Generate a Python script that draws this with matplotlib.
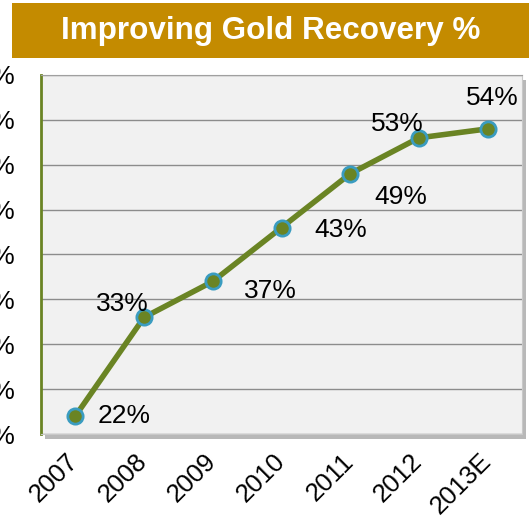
import numpy as np
import matplotlib
matplotlib.use("Agg")
from matplotlib import pyplot as plt
from matplotlib.patches import Rectangle
from matplotlib.transforms import ScaledTranslation

years = ["2007", "2008", "2009", "2010", "2011", "2012", "2013E"]
recovery = [22, 33, 37, 43, 49, 53, 54]
yticks = [20, 25, 30, 35, 40, 45, 50, 55, 60]
# label offsets in pixels relative to each point
lab_dx = [49, -22, 58, 59, 51, -22, 5]
lab_dy = [0, 13, -10, -2, -23, 14, 31]

plt.rcParams['font.family'] = ['Liberation Sans', 'DejaVu Sans']

fig = plt.figure(figsize=(5.29, 5.27), dpi=100)
W, H = 529, 527

# title banner
fig.patches.append(Rectangle((12/W, 1-58/H), 1-12/W, 55/H, transform=fig.transFigure,
                             facecolor="#C48B00", edgecolor="none", zorder=-2))
fig.text((12+529)/2/W, 1-31/H, "Improving Gold Recovery %", color="white",
         fontsize=22.6, fontweight="bold", ha="center", va="center")

ax_l, ax_r, ax_t, ax_b = 41, 522, 75, 434
# drop shadow
fig.patches.append(Rectangle(((ax_l+4)/W, 1-(ax_b+5)/H), (ax_r-ax_l)/W, (ax_b-ax_t)/H,
                             transform=fig.transFigure, facecolor="#B8B8B8",
                             edgecolor="none", zorder=-2))
ax = fig.add_axes([ax_l/W, 1-ax_b/H, (ax_r-ax_l)/W, (ax_b-ax_t)/H])
ax.set_facecolor("#F1F1F1")

x = np.arange(len(years))
ax.plot(x, recovery, color="#6A8424", lw=4, marker="o", markersize=11,
        markerfacecolor="#6A8424", markeredgecolor="#3A9CC0", markeredgewidth=2,
        zorder=3)

for i in range(len(years)):
    ax.annotate(f"{recovery[i]}%", (x[i], recovery[i]), xytext=(lab_dx[i], lab_dy[i]),
                textcoords="offset pixels", ha="center", va="center", fontsize=19)

ax.set_xlim(-0.5, len(years)-0.5)
ax.set_ylim(20, 60)
ax.set_yticks(yticks)
ax.set_yticklabels([f"{v}%" for v in yticks], fontsize=19)
ax.set_xticks(x)
ax.set_xticklabels(years, rotation=45, ha="right", rotation_mode="anchor", fontsize=18.5)
ax.tick_params(axis="y", length=0, pad=18.5)
ax.tick_params(axis="x", length=0, pad=11)
shift = ScaledTranslation(-9/100, 0, fig.dpi_scale_trans)
for lab in ax.get_xticklabels():
    lab.set_transform(lab.get_transform() + shift)
ax.grid(axis="y", color="#8C8C8C", lw=1)
ax.set_axisbelow(True)

ax.spines["left"].set_color("#6A8424")
ax.spines["left"].set_linewidth(2)
ax.spines["top"].set_color("#A0A0A0")
ax.spines["right"].set_color("#C8C8C8")
ax.spines["bottom"].set_color("#C8C8C8")

fig.savefig("out.png", dpi=100)
